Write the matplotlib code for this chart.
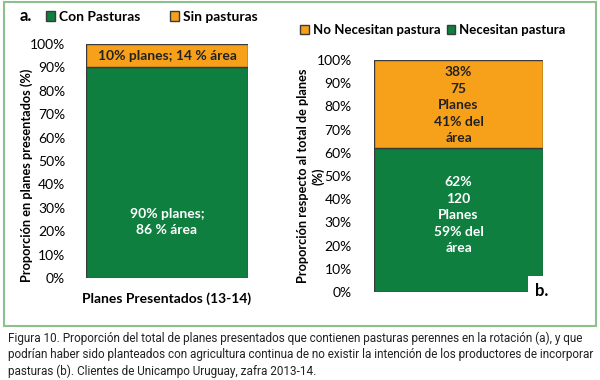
import matplotlib
matplotlib.use("Agg")
import matplotlib.pyplot as plt
from matplotlib.patches import Rectangle, Patch

# datos panel a
cat_a = ["Planes Presentados (13-14)"]
con_pasturas = [90]
sin_pasturas = [10]
lbl_con = "90% planes;\n86 % área"
lbl_sin = "10% planes; 14 % área"

# datos panel b
cat_b = [""]
necesitan = [62]
no_necesitan = [38]
lbl_nec = "62%\n120\nPlanes\n59% del\nárea"
lbl_no = "38%\n75\nPlanes\n41% del\nárea"

ticks = [0, 10, 20, 30, 40, 50, 60, 70, 80, 90, 100]
tick_lbls = [f"{t}%" for t in ticks]

caption = ("Figura 10. Proporción del total de planes presentados que contienen pasturas perennes en la rotación (a), y que\n"
           "podrían haber sido planteados con agricultura continua de no existir la intención de los productores de incorporar\n"
           "pasturas (b). Clientes de Unicampo Uruguay, zafra 2013-14.")

verde = "#0E7F3F"
naranja = "#F7A11B"
borde = "#3a3a3a"

plt.rcParams["font.family"] = ["Lato", "DejaVu Sans"]
W, H = 600, 380
fig = plt.figure(figsize=(6, 3.8), dpi=100)


def px(x0, y0, x1, y1):
    return [x0 / W, 1 - y1 / H, (x1 - x0) / W, (y1 - y0) / H]


# marco verde
fig.patches.append(Rectangle((4 / W, 1 - 326 / H), 592 / W, 324 / H, transform=fig.transFigure,
                             fill=False, edgecolor="#8DC08D", linewidth=1.5))

leg_kw = dict(frameon=False, handlelength=0.65,
              handleheight=0.65, handletextpad=0.3, borderpad=0, borderaxespad=0,
              ncol=2, loc="center left", bbox_transform=fig.transFigure)

# ---- panel a ----
ax1 = fig.add_axes(px(86, 44, 248, 278))
ax1.bar(cat_a, con_pasturas, width=1.0, color=verde, edgecolor=borde, linewidth=1)
ax1.bar(cat_a, sin_pasturas, bottom=con_pasturas, width=1.0, color=naranja, edgecolor=borde, linewidth=1)
ax1.set_xlim(-0.5, 0.5)
ax1.set_ylim(0, 100)
ax1.set_yticks(ticks, tick_lbls)
ax1.text(0, 24, lbl_con, ha="center", va="center", color="white",
         fontsize=10, fontweight="bold", linespacing=1.45)
ax1.text(0, con_pasturas[0] + sin_pasturas[0] / 2, lbl_sin, ha="center", va="center",
         color="#222222", fontsize=10, fontweight="bold")
ax1.set_ylabel("Proporción en planes presentados (%)", fontsize=9.2, fontweight="bold")
ax1.yaxis.set_label_coords(-0.325, 0.44)
ax1.tick_params(axis="x", length=0, labelsize=10, pad=10)
for t in ax1.get_xticklabels():
    t.set_fontweight("bold")
ax1.tick_params(axis="y", length=0, labelsize=10, pad=15)
for s in ax1.spines.values():
    s.set_visible(False)
ax1.legend(handles=[Patch(facecolor=verde, edgecolor=borde, label="Con Pasturas"),
                    Patch(facecolor=naranja, edgecolor=borde, label="Sin pasturas")],
           bbox_to_anchor=(46 / W, 1 - 17 / H), columnspacing=2.1,
           prop={"weight": "bold", "size": 10}, **leg_kw)
fig.text(20 / W, 1 - 16 / H, "a.", fontsize=12, fontweight="bold", va="center")

# ---- panel b ----
ax2 = fig.add_axes(px(374, 60, 543, 292))
ax2.bar(cat_b, necesitan, width=1.0, color=verde, edgecolor=borde, linewidth=1)
ax2.bar(cat_b, no_necesitan, bottom=necesitan, width=1.0, color=naranja, edgecolor=borde, linewidth=1)
ax2.set_xlim(-0.5, 0.5)
ax2.set_ylim(0, 100)
ax2.set_yticks(ticks, tick_lbls)
ax2.text(0, 33, lbl_nec, ha="center", va="center", color="white",
         fontsize=10, fontweight="bold", linespacing=1.45)
ax2.text(0, 80.5, lbl_no, ha="center", va="center",
         color="#222222", fontsize=10, fontweight="bold", linespacing=1.45)
ax2.set_ylabel("Proporción respecto al total de planes\n(%)", fontsize=9.2, fontweight="bold",
               linespacing=1.35)
ax2.yaxis.set_label_coords(-0.29, 0.5)
ax2.tick_params(axis="x", length=0)
ax2.tick_params(axis="y", length=0, labelsize=10, pad=16)
for s in ax2.spines.values():
    s.set_visible(False)
ax2.legend(handles=[Patch(facecolor=naranja, edgecolor=borde, label="No Necesitan pastura"),
                    Patch(facecolor=verde, edgecolor=borde, label="Necesitan pastura")],
           bbox_to_anchor=(300 / W, 1 - 30 / H), columnspacing=0.5,
           prop={"weight": "bold", "size": 9.5}, **leg_kw)
fig.patches.append(Rectangle((528 / W, 1 - 300 / H), 26 / W, 24 / H, transform=fig.transFigure,
                             facecolor="white", edgecolor="none"))
fig.text(535 / W, 1 - 291 / H, "b.", fontsize=12, fontweight="bold", va="center")

# leyenda de la figura
fig.text(8 / W, 1 - 332 / H, caption, fontsize=8.5, va="top", ha="left", linespacing=1.3,
         family=["Liberation Sans Narrow", "Roboto", "DejaVu Sans"], color="#222222")

fig.savefig("out.png", dpi=100)
